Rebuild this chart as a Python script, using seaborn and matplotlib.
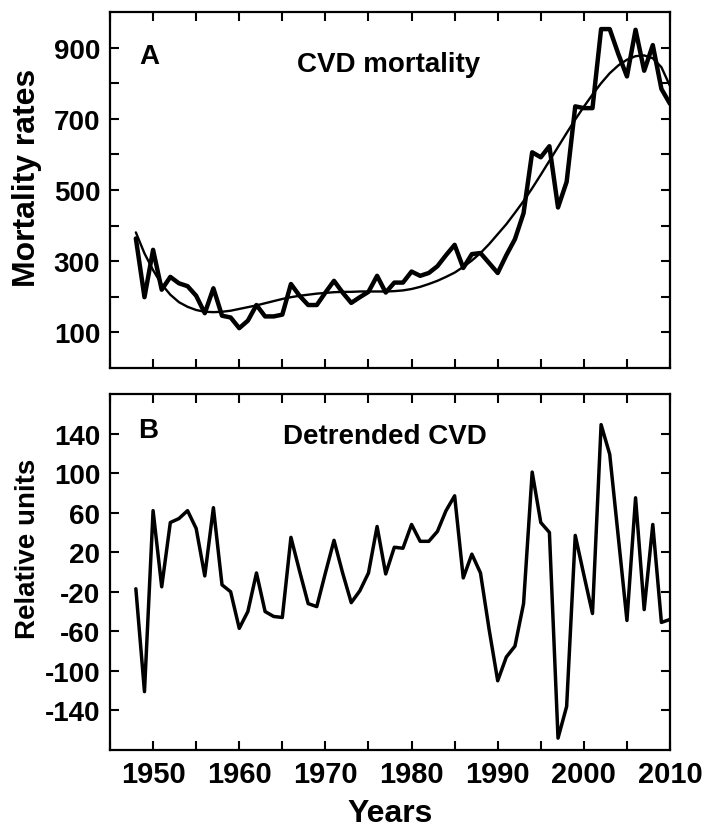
import numpy as np
import pandas as pd
import seaborn as sns
import matplotlib.pyplot as plt
from matplotlib.ticker import MultipleLocator, FixedLocator

years = list(range(1948, 2011))

# CVD mortality rates (panel A)
cvd = [364, 199, 332, 220, 256, 238, 230, 203, 154, 224,
       147, 142, 112, 133, 177, 145, 145, 150, 236, 203,
       177, 177, 212, 245, 212, 183, 199, 214, 259, 212,
       240, 240, 271, 259, 267, 286, 317, 346, 281, 320,
       323, 295, 267, 317, 362, 435, 606, 592, 623, 451,
       523, 735, 730, 730, 952, 952, 882, 819, 950, 835,
       907, 784, 742]

# smooth trend curve
trend = [381, 322, 275, 235, 206, 185, 172, 163, 158, 157,
         158, 161, 166, 171, 176, 182, 188, 194, 199, 203,
         206, 209, 211, 213, 214, 214, 215, 215, 215, 215,
         216, 218, 222, 228, 236, 245, 256, 268, 284, 302,
         323, 348, 376, 404, 436, 469, 505, 543, 582, 621,
         660, 698, 734, 768, 800, 828, 850, 866, 876, 878,
         870, 845, 792]

# detrended CVD (panel B)
detrended = [-17, -121, 62, -15, 50, 54, 62, 44, -4, 65,
             -13, -20, -57, -40, -1, -40, -45, -46, 35, 1,
             -32, -35, -1, 32, -1, -31, -19, -1, 46, -2,
             25, 24, 48, 31, 31, 41, 62, 77, -6, 18,
             -1, -58, -110, -86, -75, -32, 101, 50, 40, -168,
             -136, 37, -3, -42, 149, 119, 35, -49, 75, -38,
             48, -51, -48]

df = pd.DataFrame({"year": years, "cvd": cvd, "trend": trend, "detrended": detrended})

sns.set_style("ticks")
plt.rcParams['font.family'] = ['Liberation Sans', 'DejaVu Sans']
plt.rcParams['font.weight'] = 'bold'
plt.rcParams['axes.unicode_minus'] = False
for k in ['text.color', 'axes.labelcolor', 'xtick.color', 'ytick.color', 'axes.edgecolor']:
    plt.rcParams[k] = 'black'

fig = plt.figure(figsize=(7.07, 8.28), dpi=100)
ax1 = fig.add_axes([0.1556, 0.5543, 0.7921, 0.4300])
ax2 = fig.add_axes([0.1556, 0.0930, 0.7921, 0.4300])

sns.lineplot(data=df, x="year", y="cvd", ax=ax1, color="black", lw=3.2)
sns.lineplot(data=df, x="year", y="trend", ax=ax1, color="black", lw=1.7)
sns.lineplot(data=df, x="year", y="detrended", ax=ax2, color="black", lw=2.5)

for ax in (ax1, ax2):
    ax.set_xlim(1945, 2010)
    ax.set_xlabel("")
    ax.set_ylabel("")
    ax.xaxis.set_major_locator(MultipleLocator(10))
    ax.xaxis.set_minor_locator(MultipleLocator(5))
    ax.tick_params(which="both", direction="in", top=True, right=True,
                   length=6.5, width=1.5, color="black", labelcolor="black")
    ax.tick_params(axis="y", labelsize=20, pad=7)
    for s in ax.spines.values():
        s.set_linewidth(1.6)
        s.set_color("black")

ax1.set_ylim(0, 1000)
ax1.yaxis.set_major_locator(FixedLocator([100, 300, 500, 700, 900]))
ax1.yaxis.set_minor_locator(FixedLocator([200, 400, 600, 800]))
ax1.tick_params(axis="x", labelbottom=False)

ax2.set_ylim(-180, 180)
ax2.yaxis.set_major_locator(FixedLocator([-140, -100, -60, -20, 20, 60, 100, 140]))
ax2.xaxis.set_major_formatter(plt.FuncFormatter(lambda v, p: f"{int(v)}"))
ax2.tick_params(axis="x", labelsize=21, pad=7)

ax1.text(0.052, 0.857, "A", transform=ax1.transAxes, fontsize=20,
         fontweight="bold", ha="left", va="baseline")
ax1.text(0.498, 0.834, "CVD mortality", transform=ax1.transAxes, fontsize=20,
         fontweight="bold", ha="center", va="baseline")
ax2.text(0.050, 0.879, "B", transform=ax2.transAxes, fontsize=20,
         fontweight="bold", ha="left", va="baseline")
ax2.text(0.491, 0.862, "Detrended CVD", transform=ax2.transAxes, fontsize=20,
         fontweight="bold", ha="center", va="baseline")

fig.text(0.038, 0.785, "Mortality rates", rotation=90, fontsize=23,
         fontweight="bold", ha="center", va="center")
fig.text(0.040, 0.337, "Relative units", rotation=90, fontsize=20,
         fontweight="bold", ha="center", va="center")
fig.text(390 / 707, 1 - 822 / 828, "Years", fontsize=23,
         fontweight="bold", ha="center", va="baseline")

fig.savefig("out.png", dpi=100)
